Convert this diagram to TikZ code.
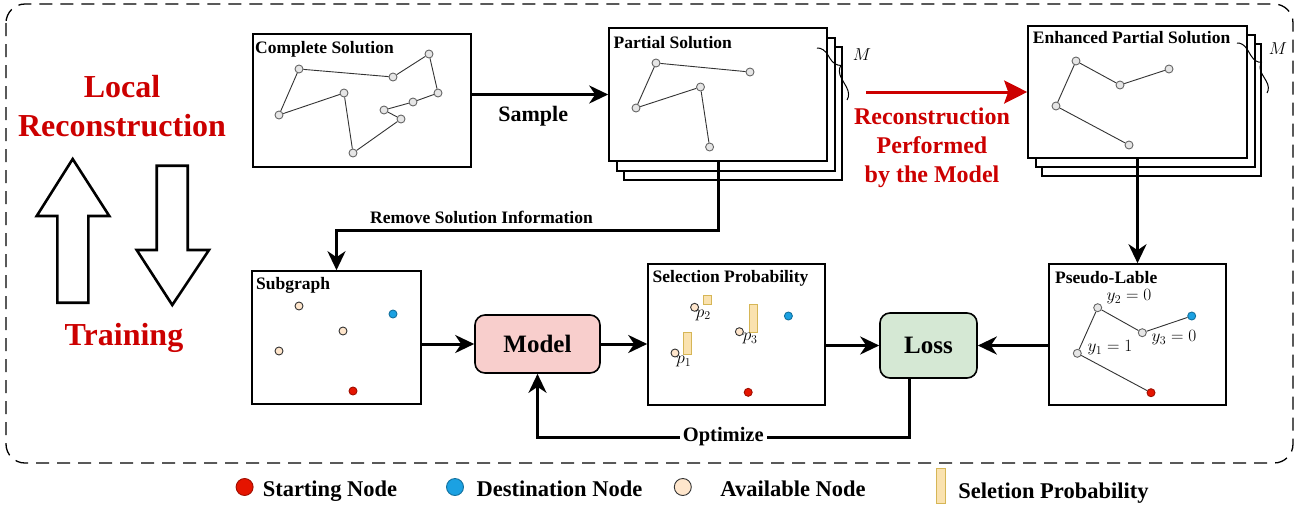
\documentclass[tikz,border=0pt]{standalone}
\usepackage{fontspec}
\setmainfont{Liberation Serif}
\usetikzlibrary{arrows.meta,positioning,decorations.pathreplacing}
\definecolor{darkred}{RGB}{204,0,0}
\definecolor{modelfill}{RGB}{248,206,204}
\definecolor{lossfill}{RGB}{213,232,212}
\definecolor{startred}{RGB}{229,20,0}
\definecolor{destblue}{RGB}{27,161,226}
\definecolor{availfill}{RGB}{255,230,204}
\definecolor{probfill}{RGB}{250,226,175}
\definecolor{probdraw}{RGB}{214,182,86}
\definecolor{ptfill}{RGB}{230,230,230}

\begin{document}
\begin{tikzpicture}[x=1pt,y=-1pt,
        panel/.style={draw=black, line width=1.6pt, fill=white, inner sep=0pt},
        bigpanel/.style={panel, minimum width=218pt, minimum height=133pt},
        lowpanel/.style={panel, minimum width=177pt, minimum height=141pt},
        boxtitle/.style={anchor=base west, inner sep=0pt,
            font=\fontsize{17.5}{20}\selectfont\bfseries},
        gnode/.style={circle, draw=black!60, fill=ptfill, line width=0.9pt,
            minimum size=8pt, inner sep=0pt},
        anode/.style={gnode, draw=black!80, fill=availfill},
        snode/.style={gnode, draw=startred!70!black, fill=startred},
        dnode/.style={gnode, draw=destblue!70!black, fill=destblue},
        probbar/.style={rectangle, draw=probdraw, fill=probfill, line width=1pt, inner sep=0pt},
        link/.style={draw=black!80, line width=0.9pt},
        flow/.style={line width=3pt, -{Stealth[length=19pt,width=18pt,inset=6pt]}},
        redflow/.style={draw=darkred, line width=3pt, -{Stealth[length=23pt,width=23pt,inset=4pt]}},
        proc/.style={draw=black, line width=1.6pt, rounded corners=10pt,
            font=\fontsize{25}{30}\selectfont\bfseries},
        bigarrow/.style={draw=black, line width=2.6pt, fill=white},
        redtext/.style={text=darkred, align=center, font=\fontsize{32}{39}\selectfont\bfseries},
        midtext/.style={text=darkred, align=center, font=\fontsize{24}{29}\selectfont\bfseries},
        lbl/.style={inner sep=0pt, font=\fontsize{18}{22}\selectfont},
        legtext/.style={anchor=west, inner sep=0pt, text height=15pt, text depth=5pt,
            yshift=-4pt, font=\fontsize{22.5}{27}\selectfont\bfseries},
        mybrace/.style={decorate, line width=1pt}
        ]
        \useasboundingbox (0,0) rectangle (1304,507);
        \draw[line width=1.3pt, rounded corners=19pt, dash pattern=on 13pt off 8pt]
            (6,4) rectangle (1293,463);

        % left side
        \node[redtext] (lr) at (122,106) {Local\\Reconstruction};
        \node[redtext] (tr) at (124,338) {Training};
        \draw[bigarrow] (72.7,159) -- (109.3,216) -- (88.3,216) -- (88.3,302.7)
            -- (57.3,302.7) -- (57.3,216) -- (36.7,216) -- cycle;
        \draw[bigarrow] (172.3,305) -- (209,250) -- (187.7,250) -- (187.7,165.7)
            -- (156.7,165.7) -- (156.7,250) -- (136.7,250) -- cycle;

        % complete solution
        \node[bigpanel] (cs) at (362,100.5) {};
        \node[boxtitle] (cst) at (255,53) {Complete Solution};
        \foreach \n/\x/\y in {c1/279/115, c2/299/69, c3/393/77, c4/429/54, c5/438/93,
            c6/413/102, c7/384/110, c8/401/119, c9/353/153, c10/344/93}
            \node[gnode] (\n) at (\x,\y) {};
        \foreach \i/\j in {c1/c2, c2/c3, c3/c4, c4/c5, c5/c6, c6/c7, c7/c8, c8/c9, c9/c10, c10/c1}
            \draw[link] (\i) -- (\j);

        % partial solution
        \foreach \k/\dx/\dy in {2/15/19, 1/8/10}
            \node[bigpanel] (ps\k) at (718+\dx,94.5+\dy) {};
        \node[bigpanel] (ps) at (718,94.5) {};
        \node[boxtitle] (pst) at (613.5,48) {Partial Solution};
        \foreach \n/\x/\y in {p1/656/63, p2/750/72, p3/700.5/87, p4/636/108, p5/709.6/147}
            \node[gnode] (\n) at (\x,\y) {};
        \foreach \i/\j in {p4/p1, p1/p2, p4/p3, p3/p5}
            \draw[link] (\i) -- (\j);
        \draw[mybrace, decoration={brace, amplitude=12pt, aspect=0.45}] (817,48) -- (847,100);
        \node[lbl] (m1) at (862,55) {$M$};

        % enhanced partial solution
        \foreach \k/\dx/\dy in {2/14/18, 1/8/9}
            \node[bigpanel, minimum width=219pt, minimum height=132pt] (eps\k) at (1137.5+\dx,92+\dy) {};
        \node[bigpanel, minimum width=219pt, minimum height=132pt] (eps) at (1137.5,92) {};
        \node[boxtitle] (epst) at (1032.7,43) {Enhanced Partial Solution};
        \foreach \n/\x/\y in {e1/1076/61, e2/1169/69, e3/1120/85, e4/1056/106, e5/1129/145}
            \node[gnode] (\n) at (\x,\y) {};
        \foreach \i/\j in {e4/e1, e1/e3, e3/e2, e4/e5}
            \draw[link] (\i) -- (\j);
        \draw[mybrace, decoration={brace, amplitude=11pt, aspect=0.5}] (1237,43) -- (1267,93);
        \node[lbl] (m2) at (1278,49) {$M$};

        % subgraph
        \node[panel, minimum width=169pt, minimum height=133pt] (sg) at (336.5,337.5) {};
        \node[boxtitle] (sgt) at (256,289) {Subgraph};
        \node[anode] (s1) at (299,306) {};
        \node[dnode] (s2) at (393,314) {};
        \node[anode] (s3) at (343,331) {};
        \node[anode] (s4) at (279,351) {};
        \node[snode] (s5) at (353,391) {};

        \node[proc, fill=modelfill, minimum width=125pt, minimum height=58pt] (mdl) at (537.5,344) {Model};

        % selection probability
        \node[lowpanel] (sp) at (736.5,334.5) {};
        \node[boxtitle] (spt) at (652.5,282) {Selection Probability};
        \node[anode] (q1) at (675,353) {};
        \node[anode] (q2) at (694.6,307.3) {};
        \node[anode] (q3) at (739.4,331.7) {};
        \node[dnode] (q4) at (788.4,316) {};
        \node[snode] (q5) at (748.2,392.3) {};
        \node[probbar, minimum width=8.4pt, minimum height=21.3pt] (b1) at (687.4,343.4) {};
        \node[probbar, minimum width=8.5pt, minimum height=8.6pt] (b2) at (707.3,300) {};
        \node[probbar, minimum width=8.4pt, minimum height=28pt] (b3) at (753.2,318) {};
        \node[lbl, below right=0pt and -2pt of q1] (lp1) {$p_1$};
        \node[lbl, below right=-1pt and -2pt of q2] (lp2) {$p_2$};
        \node[lbl, below right=-2pt and 0pt of q3] (lp3) {$p_3$};

        \node[proc, fill=lossfill, minimum width=97pt, minimum height=65pt] (loss) at (928.5,345.5) {Loss};

        % pseudo label
        \node[lowpanel] (pl) at (1137.5,334.5) {};
        \node[boxtitle] (plt) at (1055,283) {Pseudo-Lable};
        \foreach \n/\x/\y in {r1/1077.3/353.3, r2/1097.7/307.7, r3/1142.3/332.7}
            \node[gnode] (\n) at (\x,\y) {};
        \node[dnode] (r4) at (1191.7,316) {};
        \node[snode] (r5) at (1151,392.7) {};
        \foreach \i/\j in {r1/r2, r2/r3, r3/r4, r1/r5}
            \draw[link] (\i) -- (\j);
        \node[lbl] (y2) at (1129,297) {$y_2=0$};
        \node[lbl] (y3) at (1174,338) {$y_3=0$};
        \node[lbl] (y1) at (1110,348) {$y_1=1$};

        % connectors
        \draw[flow] (cs.east |- ps.west) -- node[pos=0.45, below=7pt,
            font=\fontsize{22}{26}\selectfont\bfseries] (smp) {Sample} (ps.west);
        \coordinate (rs) at (866,92);
        \draw[redflow] (rs) -- (eps.west);
        \node[midtext] (rpm) at (932,148) {Reconstruction\\Performed\\by the Model};
        \coordinate (rb) at (718,230);
        \draw[flow] (ps.south) -- (rb) -| node[pos=0.31, above=5pt, inner sep=0pt,
            font=\fontsize{17.5}{20}\selectfont\bfseries] (rsi) {Remove Solution Information} (sg.north);
        \draw[flow] (eps.south) -- (pl.north);
        \draw[flow] (sg.east |- mdl.west) -- (mdl.west);
        \draw[flow] (mdl.east) -- (sp.west |- mdl.east);
        \draw[flow] (sp.east |- loss.west) -- (loss.west);
        \draw[flow] (pl.west |- loss.east) -- (loss.east);
        \coordinate (ob) at (909,437);
        \draw[flow] (loss.south -| ob) -- (ob) -| node[pos=0.25, fill=white, inner sep=3pt,
            font=\fontsize{20.5}{24}\selectfont\bfseries] (opt) {Optimize} (mdl.south);

        % legend
        \node[snode, minimum size=17pt] (lg1) at (244.6,487) {};
        \node[legtext, right=9pt of lg1] (lt1) {Starting Node};
        \node[dnode, minimum size=17pt] (lg2) at (455,487) {};
        \node[legtext, right=12.5pt of lg2] (lt2) {Destination Node};
        \node[anode, minimum size=17pt] (lg3) at (682.8,487) {};
        \node[legtext, right=28.5pt of lg3] (lt3) {Available Node};
        \node[probbar, minimum width=8.4pt, minimum height=35pt] (lg4) at (940.8,486) {};
        \node[legtext, right=12.6pt of lg4, yshift=-3pt] (lt4) {Seletion Probability};
\end{tikzpicture}
\end{document}
